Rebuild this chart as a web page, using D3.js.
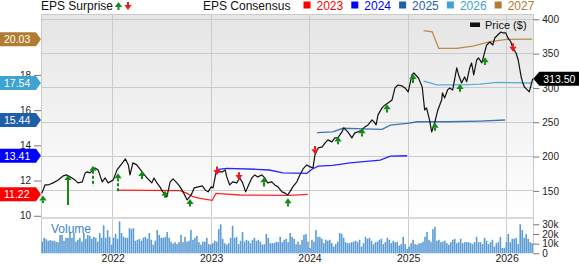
<!DOCTYPE html>
<meta charset="utf-8">
<style>

body {
  margin: 0;
  background: #fff;
}

text {
  font-family: "Liberation Sans", Arial, sans-serif;
}

.axis text {
  font-size: 10px;
  fill: #222;
}

.axis line {
  stroke: #777;
}

.axis path {
  display: none;
}

.grid line {
  stroke: #cbcbcb;
  shape-rendering: crispEdges;
}

</style>
<svg width="579" height="264"></svg>
<script src="https://d3js.org/d3.v7.min.js"></script>
<script>

var parse = d3.timeParse("%Y-%m-%d");

// closing price
var price = [
  ["2021-04-13",146.7],["2021-04-25",158.7],["2021-05-06",158.7],["2021-05-25",161.7],
  ["2021-06-13",166.0],["2021-07-01",171.8],["2021-07-15",173.3],["2021-08-03",168.9],
  ["2021-08-14",166.0],["2021-08-25",161.7],["2021-09-10",163.2],["2021-09-21",176.2],
  ["2021-09-28",177.7],["2021-10-09",176.2],["2021-10-28",183.5],["2021-11-08",180.6],
  ["2021-11-23",163.2],["2021-12-04",168.9],["2021-12-15",161.7],["2022-01-03",166.0],
  ["2022-01-17",180.6],["2022-02-06",190.8],["2022-02-17",196.6],["2022-02-28",187.9],
  ["2022-03-06",173.3],["2022-03-17",190.8],["2022-03-31",187.9],["2022-04-20",177.7],
  ["2022-05-08",168.9],["2022-05-26",161.7],["2022-06-03",168.9],["2022-06-14",161.7],
  ["2022-06-25",155.9],["2022-07-06",148.6],["2022-07-21",141.3],["2022-08-02",163.2],
  ["2022-08-13",167.5],["2022-08-27",161.7],["2022-09-08",155.9],["2022-09-19",148.6],
  ["2022-10-04",136.9],["2022-10-19",144.2],["2022-10-30",154.4],["2022-11-14",155.9],
  ["2022-11-29",157.3],["2022-12-10",151.5],["2022-12-21",148.6],["2023-01-01",155.9],
  ["2023-01-08",154.4],["2023-01-19",176.2],["2023-01-27",177.7],["2023-02-11",177.7],
  ["2023-02-22",180.6],["2023-02-28",170.4],["2023-03-11",158.7],["2023-03-22",163.2],
  ["2023-04-06",161.7],["2023-04-17",168.9],["2023-04-28",161.7],["2023-05-09",148.6],
  ["2023-05-20",158.7],["2023-06-01",168.9],["2023-06-12",173.3],["2023-06-23",170.4],
  ["2023-07-08",173.3],["2023-07-19",168.9],["2023-07-30",161.7],["2023-08-14",163.2],
  ["2023-08-25",158.7],["2023-09-06",155.9],["2023-09-21",148.6],["2023-10-01",147.1],
  ["2023-10-12",144.2],["2023-10-20",148.6],["2023-10-31",155.9],["2023-11-15",163.2],
  ["2023-11-26",173.3],["2023-12-08",182.0],["2023-12-22",187.9],["2024-01-03",185.0],
  ["2024-01-14",183.5],["2024-01-21",202.4],["2024-02-02",212.6],["2024-02-17",214.1],
  ["2024-02-28",219.9],["2024-03-09",224.3],["2024-03-24",221.4],["2024-04-04",227.2],
  ["2024-04-15",227.2],["2024-04-30",235.9],["2024-05-07",241.8],["2024-05-22",235.9],
  ["2024-06-06",227.2],["2024-06-17",234.5],["2024-06-28",235.9],["2024-07-13",238.8],
  ["2024-07-24",243.2],["2024-08-05",246.1],["2024-08-20",253.4],["2024-08-27",250.5],
  ["2024-09-04",246.1],["2024-09-11",260.7],["2024-09-26",270.9],["2024-10-07",275.3],
  ["2024-10-18",278.2],["2024-11-02",282.5],["2024-11-13",300.0],["2024-11-24",304.3],
  ["2024-12-09",302.9],["2024-12-20",300.0],["2025-01-01",294.2],["2025-01-15",318.9],
  ["2025-01-22",321.8],["2025-02-08",314.5],["2025-02-22",301.4],["2025-03-03",267.9],
  ["2025-03-10",270.9],["2025-03-21",253.4],["2025-03-29",235.9],["2025-04-10",250.5],
  ["2025-04-21",267.9],["2025-05-05",282.5],["2025-05-08",292.7],["2025-05-16",285.4],
  ["2025-05-27",297.1],["2025-06-04",300.0],["2025-06-15",297.1],["2025-06-30",329.1],
  ["2025-07-07",318.9],["2025-07-18",307.3],["2025-07-29",316.0],["2025-08-06",309.1],
  ["2025-08-17",329.1],["2025-08-24",336.4],["2025-09-01",318.9],["2025-09-12",340.7],
  ["2025-09-19",343.6],["2025-10-01",336.4],["2025-10-12",352.4],["2025-10-19",362.6],
  ["2025-10-31",366.9],["2025-11-11",362.6],["2025-11-18",372.8],["2025-11-29",377.1],
  ["2025-12-11",381.5],["2025-12-18",380.1],["2025-12-29",380.1],["2026-01-06",372.8],
  ["2026-01-17",366.9],["2026-01-24",358.2],["2026-02-05",350.9],["2026-02-13",340.7],
  ["2026-02-24",316.0],["2026-03-01",308.7],["2026-03-08",301.4],["2026-03-19",297.1],
  ["2026-03-26",294.2],["2026-04-08",313.5]
];

// EPS consensus per fiscal year
var eps2023 = [["2022-01-21",11.46],["2022-09-08",11.43],["2022-10-04",11.27],["2022-10-26",11.08],
  ["2022-11-21",10.99],["2023-01-05",10.88],["2023-01-19",11.27],["2023-04-17",11.18],
  ["2023-10-20",11.16],["2023-12-26",11.22]];
var eps2024 = [["2023-01-27",12.64],["2023-02-28",12.69],["2023-06-19",12.64],["2023-08-05",12.60],
  ["2023-09-24",12.44],["2023-12-22",12.41],["2024-01-10",12.64],["2024-02-02",12.82],
  ["2024-03-27",12.86],["2024-05-30",13.01],["2024-09-19",13.16],["2024-10-27",13.39],
  ["2024-12-28",13.41]];
var eps2025 = [["2024-01-29",14.72],["2024-03-27",14.77],["2024-05-04",14.97],["2024-07-17",14.93],
  ["2024-09-26",14.91],["2024-10-27",15.15],["2024-12-28",15.25],["2025-02-04",15.34],
  ["2025-05-24",15.34],["2025-09-24",15.38],["2025-12-26",15.44]];
var eps2026 = [["2025-02-27",17.65],["2025-04-17",17.43],["2025-07-22",17.43],["2025-09-24",17.48],
  ["2025-11-26",17.58],["2026-04-06",17.54]];
var eps2027 = [["2025-02-27",20.51],["2025-03-31",20.45],["2025-04-24",19.51],["2025-06-30",19.51],
  ["2025-08-29",19.64],["2025-10-31",19.89],["2026-01-02",20.02],["2026-04-06",20.03]];

var years = ["2023", "2024", "2025", "2026", "2027"];
var consensus = [eps2023, eps2024, eps2025, eps2026, eps2027];

// weekly volume in thousands, oldest first
var volume = [
  12,16,14.6,13,13.6,13,13,12,11.5,19, 19,13,16,16,22,16,21,12,14,16,
  12,21,15,19,18,15,17,16,12,21, 16,29,16,24,17,9,16,20,15,33,
  21,17,16,16,26,25,26,13,14,15, 13,16,17,15,21,14,9,13,24,19,
  16,16,17,22,16,12,10,11.5,9.5,11.5, 19,11.5,17,12,13,24,14,16,18,11.5,
  9,12,12,16,
  9.5,9,10.5,13,12,25,30,15,10.5,9, 10.5,16,28.5,16,17,9.5,13,22,12,14,
  13,10.5,14,16,13,14,12,9,9.5,20, 16,10.5,10.5,10.5,12,11.5,17,11.5,14,15,
  11.5,21,17,15,9.5,12,9,14,19,20, 12,5.5,14,12,24,17,17,15,10.5,14,
  13,14,10.5,7,9.5,12,21,20,16,11.5, 10.5,10.5,11.5,12,13,11.5,14,7,10.5,17,
  15,16,13,9.5,11.5,
  12,14,15,9.5,11.5,16,14,10.5,13,11.5, 12,8,9.5,17,9.5,4.5,7,10.5,14,9.5,
  9,10.5,10.5,12,17,22,14,12,25,27.5, 13,14,11.5,12,13,10.5,9,11.5,14,15,
  10.5,11.5,15,10.5,11.5,11.5,11.5,10.5,9.5,11.5, 17,11.5,11.5,9.5,16,13,9.5,11.5,14,7,
  10.5,11.5,17,5.5,5.5,11.5,20,11.5,15,15, 16,9.5,30,24,16,20,15,11.5,10.5
];

// earnings surprises: date, direction, arrow tip and tail on the price scale
var surprises = [
  ["2021-04-17","up",143.2,132.5], ["2021-07-19","up",173.3,129.6], ["2021-10-20","up",186.8,157.3],
  ["2022-01-22","up",175.8,147.5], ["2022-04-19","up",179.1,167.5], ["2022-07-15","up",150.4,140.2],
  ["2022-10-15","up",138.4,127.2], ["2023-01-21","down",173.3,185.4], ["2023-04-15","down",166.0,177.2],
  ["2023-07-15","up",170.0,156.3], ["2023-10-14","up",139.4,127.2], ["2024-01-22","down",203.4,215.5],
  ["2024-04-14","up",229.1,218.0], ["2024-07-14","up",241.3,229.1], ["2024-10-13","up",276.2,264.3],
  ["2025-01-17","up",320.4,307.3], ["2025-04-10","up",249.4,237.8], ["2025-07-12","up",305.8,294.6],
  ["2025-10-12","up",344.7,333.5], ["2026-01-23","down",352.8,365.1]
];

var lastPrice = 313.50;
var priceTicks = [150, 200, 250, 300, 350, 400];
var epsTicks = [10, 12, 14, 16, 18];
var volumeTicks = [0, 10, 20, 30];

var svg = d3.select("svg"),
    plotLeft = 41,
    plotRight = 533.3,
    plotTop = 14,
    mainBottom = 217,
    volBottom = 253.3;

var x = d3.scaleTime()
    .domain([parse("2021-04-10"), parse("2026-04-10")])
    .range([plotLeft, plotRight]);
var yPrice = d3.scaleLinear().domain([112, 407.7]).range([mainBottom, plotTop]);
var yEps = d3.scaleLinear().domain([9.93, 21.46]).range([mainBottom, plotTop]);
var yVol = d3.scaleLinear().domain([0, 36.5]).range([volBottom, 218]);
var xVol = d3.scaleBand().domain(d3.range(volume.length)).range([plotLeft, plotRight]).padding(0.2);
var color = d3.scaleOrdinal()
    .domain(years)
    .range(["#ff0000", "#0000ff", "#1f5ea8", "#3ea2d2", "#b27c30"]);

// background gradient of the price panel
var grad = svg.append("defs").append("linearGradient")
    .attr("id", "bg").attr("x1", 0).attr("y1", 0).attr("x2", 0).attr("y2", 1);
grad.append("stop").attr("offset", "0%").attr("stop-color", "#e5e5e5");
grad.append("stop").attr("offset", "100%").attr("stop-color", "#ffffff");

svg.append("rect")
    .attr("x", plotLeft).attr("y", plotTop)
    .attr("width", plotRight - plotLeft).attr("height", mainBottom - plotTop)
    .attr("fill", "url(#bg)");

// grid
var grid = svg.append("g").attr("class", "grid");
grid.selectAll(".h").data(priceTicks).enter().append("line")
    .attr("x1", plotLeft).attr("x2", plotRight)
    .attr("y1", function(d) { return yPrice(d); })
    .attr("y2", function(d) { return yPrice(d); });
grid.selectAll(".v").data(x.ticks(d3.timeYear.every(1))).enter().append("line")
    .attr("x1", function(d) { return x(d); })
    .attr("x2", function(d) { return x(d); })
    .attr("y1", plotTop).attr("y2", volBottom);
grid.append("line").attr("x1", plotLeft).attr("x2", plotRight).attr("y1", plotTop).attr("y2", plotTop);
grid.append("line").attr("x1", plotLeft).attr("x2", plotLeft).attr("y1", plotTop).attr("y2", volBottom);
grid.append("line").attr("x1", plotRight).attr("x2", plotRight).attr("y1", plotTop).attr("y2", volBottom);
grid.append("line").attr("x1", plotLeft).attr("x2", plotRight)
    .attr("y1", mainBottom + 0.5).attr("y2", mainBottom + 0.5)
    .style("stroke", "#d9d9d9").style("stroke-width", 2);

// volume bars
svg.append("g").selectAll("rect").data(volume).enter().append("rect")
    .attr("x", function(d, i) { return xVol(i); })
    .attr("width", xVol.bandwidth())
    .attr("y", function(d) { return yVol(d); })
    .attr("height", function(d) { return yVol(0) - yVol(d); })
    .attr("fill", "#5b9bd5");

svg.append("text")
    .attr("x", 51).attr("y", 233)
    .style("font-size", "12px").style("fill", "#3a86d0")
    .text("Volume");

// consensus lines
var epsLine = d3.line()
    .x(function(d) { return x(parse(d[0])); })
    .y(function(d) { return yEps(d[1]); });

svg.append("g").selectAll("path").data(consensus).enter().append("path")
    .attr("d", epsLine)
    .attr("fill", "none")
    .attr("stroke", function(d, i) { return color(years[i]); })
    .attr("stroke-width", 1.3)
    .attr("stroke-opacity", 0.85);

// price
var priceLine = d3.line()
    .x(function(d) { return x(parse(d[0])); })
    .y(function(d) { return yPrice(d[1]); });

svg.append("path")
    .datum(price)
    .attr("d", priceLine)
    .attr("fill", "none")
    .attr("stroke", "#111")
    .attr("stroke-width", 1.2)
    .attr("stroke-linejoin", "round");

// surprise arrows
function arrow(g, cx, tip, tail, up, dashed) {
  var fill = up ? "#138a13" : "#f21818",
      headEnd = tip + (up ? 5 : -5);
  g.append("line")
      .attr("x1", cx).attr("x2", cx)
      .attr("y1", headEnd).attr("y2", tail)
      .attr("stroke", fill).attr("stroke-width", 2)
      .attr("stroke-dasharray", dashed ? "3,2" : null);
  g.append("path")
      .attr("d", "M" + cx + "," + tip + "L" + (cx + 3.6) + "," + headEnd + "L" + (cx - 3.6) + "," + headEnd + "Z")
      .attr("fill", fill);
}

var dashedStems = [0, 2, 3];
var arrows = svg.append("g");
surprises.forEach(function(s, i) {
  arrow(arrows, Math.round(x(parse(s[0]))), yPrice(s[2]), yPrice(s[3]), s[1] === "up", dashedStems.indexOf(i) >= 0);
});

// axes
svg.append("g")
    .attr("class", "axis")
    .attr("transform", "translate(" + plotRight + ",0)")
    .call(d3.axisRight(yPrice).tickValues(priceTicks).tickSize(6).tickPadding(3));

svg.append("g")
    .attr("class", "axis")
    .attr("transform", "translate(" + plotRight + ",0)")
    .call(d3.axisRight(yVol).tickValues(volumeTicks).tickSize(6).tickPadding(3)
      .tickFormat(function(d) { return d ? d + "k" : "0"; }));

svg.append("g")
    .attr("class", "axis")
    .attr("transform", "translate(" + plotLeft + ",0)")
    .call(d3.axisLeft(yEps).tickValues(epsTicks).tickSize(7).tickPadding(3));

svg.append("g")
    .attr("class", "axis")
    .attr("transform", "translate(0," + volBottom + ")")
    .call(d3.axisBottom(x).ticks(d3.timeYear.every(1)).tickFormat(d3.timeFormat("%Y")).tickSize(0).tickPadding(1.5))
  .selectAll("text")
    .style("font-size", "10.5px");

// consensus badges on the left
var badges = svg.append("g").selectAll("g").data(consensus).enter().append("g")
    .attr("transform", function(d) { return "translate(0," + yEps(d[d.length - 1][1]) + ")"; });
badges.append("path")
    .attr("d", "M0,-7L36,-7L41,0L36,7L0,7Z")
    .attr("fill", function(d, i) { return color(years[i]); });
badges.append("text")
    .attr("x", 4).attr("y", 4)
    .style("font-size", "10.5px").style("fill", "#fff")
    .text(function(d) { return d3.format(".2f")(d[d.length - 1][1]); });

// last price badge
var pb = svg.append("g").attr("transform", "translate(0," + yPrice(lastPrice) + ")");
pb.append("path")
    .attr("d", "M" + plotRight + ",0L" + (plotRight + 6) + ",-7L579,-7L579,7L" + (plotRight + 6) + ",7Z")
    .attr("fill", "#000");
pb.append("text")
    .attr("x", plotRight + 10).attr("y", 4)
    .style("font-size", "10.5px").style("fill", "#fff")
    .text(d3.format(".2f")(lastPrice));

// price legend inside the plot
svg.append("rect").attr("x", 470).attr("y", 22.5).attr("width", 10).attr("height", 4.5).attr("fill", "#111");
svg.append("text").attr("x", 485).attr("y", 29).style("font-size", "11px").style("fill", "#111").text("Price ($)");

// header legend
var legend = svg.append("g");
legend.append("text").attr("x", 41).attr("y", 10).style("font-size", "12px").style("fill", "#111").text("EPS Surprise");
arrow(legend, 118.5, 2, 10, true, false);
arrow(legend, 128, 10, 2, false, false);
legend.append("text").attr("x", 203).attr("y", 10).style("font-size", "12px").style("fill", "#111").text("EPS Consensus");

var items = legend.selectAll(".item").data(years).enter().append("g")
    .attr("transform", function(d, i) { return "translate(" + (303.5 + i * 47.8) + ",0)"; });
items.append("rect").attr("y", 1.5).attr("width", 7).attr("height", 7)
    .attr("fill", function(d) { return color(d); });
items.append("text").attr("x", 13).attr("y", 10)
    .style("font-size", "12px")
    .style("fill", function(d) { return color(d); })
    .text(function(d) { return d; });

</script>
